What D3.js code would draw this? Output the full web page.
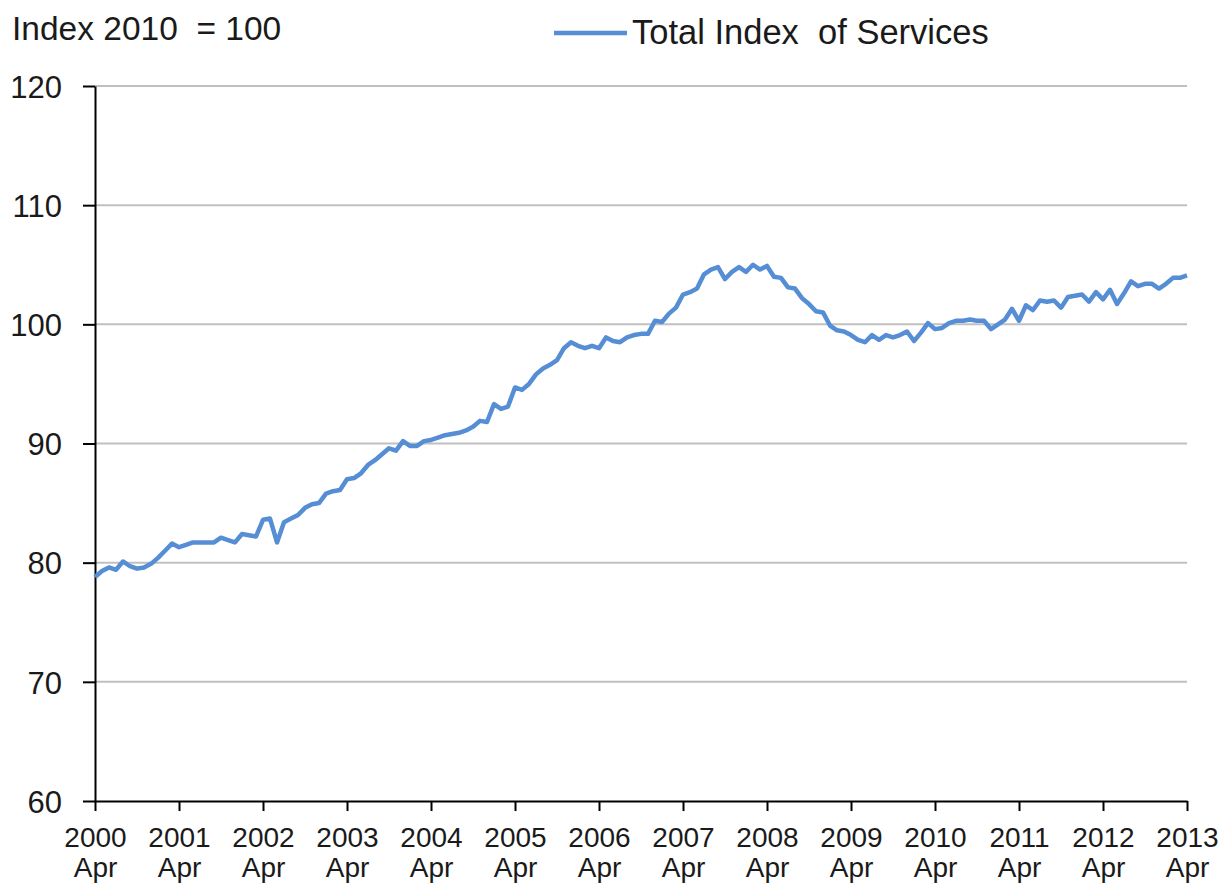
<!DOCTYPE html>
<html>
<head>
<meta charset="utf-8">
<script src="https://cdn.jsdelivr.net/npm/d3@7"></script>
<style>
  body { margin: 0; background: #fff; }
  svg text { font-family: "Liberation Sans", Arial, sans-serif; fill: #1a1a1a; white-space: pre; }
  .grid line { stroke: #c0c0c0; stroke-width: 2; }
  .axis path, .axis line { stroke: #000; stroke-width: 2; }
  .line { fill: none; stroke: #558ed5; stroke-width: 4.5; stroke-linejoin: round; }
</style>
</head>
<body>
<div id="chart"></div>
<script>
// Total Index of Services, monthly, Apr 2000 .. Apr 2013 (2010 = 100)
var services = [
  78.8, 79.3, 79.6, 79.4, 80.1, 79.7, 79.5, 79.6, 79.9, 80.4, 81.0, 81.6,
  81.3, 81.5, 81.7, 81.7, 81.7, 81.7, 82.1, 81.9, 81.7, 82.4, 82.3, 82.2,
  83.6, 83.7, 81.7, 83.4, 83.7, 84.0, 84.6, 84.9, 85.0, 85.8, 86.0, 86.1,
  87.0, 87.1, 87.5, 88.2, 88.6, 89.1, 89.6, 89.4, 90.2, 89.8, 89.8, 90.2,
  90.3, 90.5, 90.7, 90.8, 90.9, 91.1, 91.4, 91.9, 91.8, 93.3, 92.9, 93.1,
  94.7, 94.5, 95.0, 95.8, 96.3, 96.6, 97.0, 98.0, 98.5, 98.2, 98.0, 98.2,
  98.0, 98.9, 98.6, 98.5, 98.9, 99.1, 99.2, 99.2, 100.3, 100.2, 100.9, 101.4,
  102.5, 102.7, 103.0, 104.2, 104.6, 104.8, 103.8, 104.4, 104.8, 104.4, 105.0, 104.6,
  104.9, 104.0, 103.9, 103.1, 103.0, 102.2, 101.7, 101.1, 101.0, 99.9, 99.5, 99.4,
  99.1, 98.7, 98.5, 99.1, 98.7, 99.1, 98.9, 99.1, 99.4, 98.6, 99.3, 100.1,
  99.6, 99.7, 100.1, 100.3, 100.3, 100.4, 100.3, 100.3, 99.6, 100.0, 100.4, 101.3,
  100.3, 101.6, 101.2, 102.0, 101.9, 102.0, 101.4, 102.3, 102.4, 102.5, 101.9, 102.7,
  102.1, 102.9, 101.7, 102.6, 103.6, 103.2, 103.4, 103.4, 103.0, 103.4, 103.9, 103.9,
  104.1
];
var years = [2000, 2001, 2002, 2003, 2004, 2005, 2006, 2007, 2008, 2009, 2010, 2011, 2012, 2013];
var yTicks = [60, 70, 80, 90, 100, 110, 120];
var seriesName = "Total Index  of Services";
var unitLabel = "Index 2010  = 100";

var width = 1222, height = 884,
    plotLeft = 95, plotRight = 1187, plotTop = 86, plotBottom = 801;

var svg = d3.select("#chart")
            .append("svg")
            .attr("width", width)
            .attr("height", height);

var x = d3.scaleLinear().domain([0, services.length - 1]).range([plotLeft, plotRight]),
    y = d3.scaleLinear().domain([60, 120]).range([plotBottom, plotTop]);

// gridlines
svg.append("g")
   .attr("class", "grid")
   .selectAll("line")
   .data(yTicks.filter(function(d){ return d > 60; }))
   .enter().append("line")
   .attr("x1", plotLeft).attr("x2", plotRight)
   .attr("y1", function(d){ return y(d); })
   .attr("y2", function(d){ return y(d); });

// y axis
var yAxis = svg.append("g")
   .attr("class", "axis")
   .attr("transform", "translate(" + plotLeft + ",0)")
   .call(d3.axisLeft(y).tickValues(yTicks).tickSize(12).tickSizeOuter(0).tickPadding(21));
yAxis.selectAll("text").style("font-size", "31px").attr("dy", "0.36em");

// x axis (one tick per April)
var xAxis = svg.append("g")
   .attr("class", "axis")
   .attr("transform", "translate(0," + plotBottom + ")")
   .call(d3.axisBottom(x)
     .tickValues(years.map(function(yr){ return (yr - 2000) * 12; }))
     .tickSize(10).tickSizeOuter(0).tickFormat(""));

xAxis.selectAll(".tick").each(function(d, i) {
  var t = d3.select(this).append("text")
            .attr("text-anchor", "middle")
            .style("font-size", "28px")
            .style("fill", "#1a1a1a");
  t.append("tspan").attr("x", 0).attr("y", 46).text(years[i]);
  t.append("tspan").attr("x", 0).attr("y", 76).text("Apr");
});

// series line
var valueLine = d3.line()
                  .x(function(d, i){ return x(i); })
                  .y(function(d){ return y(d); });

svg.append("path")
   .attr("class", "line")
   .attr("d", valueLine(services));

// unit label
svg.append("text")
   .attr("x", 12).attr("y", 40)
   .style("font-size", "33.5px")
   .text(unitLabel);

// legend
svg.append("line")
   .attr("x1", 554).attr("x2", 627)
   .attr("y1", 33).attr("y2", 33)
   .attr("stroke", "#558ed5").attr("stroke-width", 4.5);
svg.append("text")
   .attr("x", 632).attr("y", 44)
   .style("font-size", "34.5px")
   .text(seriesName);
</script>
</body>
</html>
